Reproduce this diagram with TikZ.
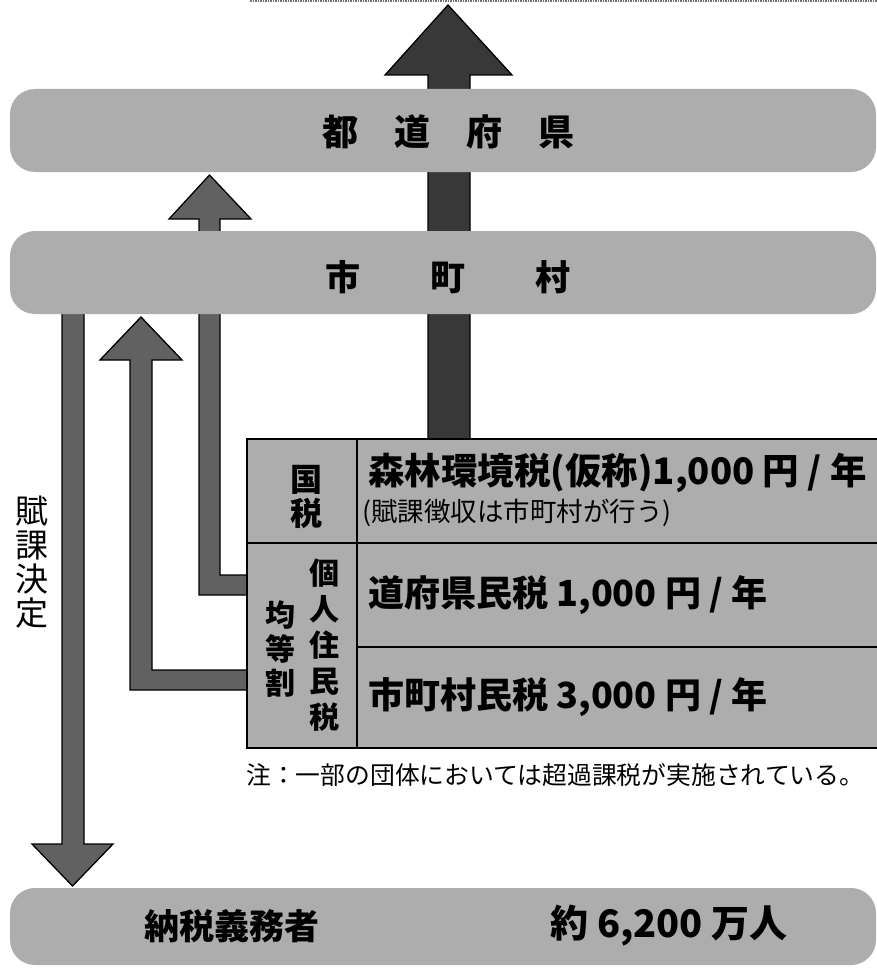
\documentclass[tikz,border=0pt]{standalone}
\usepackage{fontspec}
\newfontfamily\jp{Noto Sans CJK JP}
\definecolor{bandgray}{gray}{0.68}
\definecolor{arrgray}{gray}{0.38}
\definecolor{darkarr}{gray}{0.22}
\tikzset{
  band/.style={fill=bandgray, rounded corners=25pt, inner sep=0pt, minimum width=866pt},
  blockarrow/.style={fill=arrgray, draw=black, line width=1.3pt, line join=miter},
  mainarrow/.style={fill=darkarr, draw=black, line width=1.3pt, line join=miter},
  txt/.style={inner sep=0pt, font=\jp},
  tline/.style={line width=1.2pt, black},
}
\begin{document}
\begin{tikzpicture}[x=1pt,y=-1pt]
\useasboundingbox (0,0) rectangle (877,971);
% faint top edge
\draw[black!55, line width=1.2pt, dash pattern=on 1.5pt off 1pt] (250,1) -- (877,1);

% table coordinates
\coordinate (tTL) at (247,439);
\coordinate (tBR) at (877,748);

% central big arrow (behind bands)
\draw[mainarrow] (428,439) -- (428,75) -- (385,75) -- (448,5) -- (512,75) -- (470,75) -- (470,439);
% arrow to prefecture (behind municipal band)
\draw[blockarrow] (247,575) -- (220,575) -- (220,219) -- (251,219) -- (209.5,175) -- (169,219) -- (199,219) -- (199,595) -- (247,595);
% arrow to municipality
\draw[blockarrow] (247,670) -- (152,670) -- (152,360) -- (182,360) -- (141,317) -- (100,360) -- (130,360) -- (130,690) -- (247,690);
% assessment arrow downward
\draw[blockarrow] (62,305) -- (62,844) -- (32,844) -- (72.5,886) -- (113,844) -- (84,844) -- (84,305);

% bands
\node[band, minimum height=83pt] (pref) at (443,130.5) {};
\node[band, minimum height=83pt] (muni) at (443,272.5) {};
\node[band, minimum height=77pt] (payer) at (443,926.5) {};

\node[txt, font=\jp\bfseries\fontsize{36}{36}\selectfont] (preft) at (448,132) {都\quad 道\quad 府\quad 県};
\node[txt, font=\jp\bfseries\fontsize{35}{35}\selectfont] (munit) at (448,277) {市\qquad 町\qquad 村};
\node[txt, font=\jp\bfseries\fontsize{35}{35}\selectfont] (payert) at (232,926) {納税義務者};
\node[txt, font=\jp\bfseries\fontsize{38}{38}\selectfont] (numt) at (669,926) {約 6,200 万人};

% table
\fill[bandgray] (tTL) rectangle (tBR);
\draw[tline] (877,439) -- (247,439) -- (247,748) -- (877,748);
\draw[tline] (357,439) -- (357,748);
\draw[tline] (247,543) -- (877,543);
\draw[tline] (357,647) -- (877,647);

\node[txt, align=center, font=\jp\bfseries\fontsize{32}{34}\selectfont] (kokuzei) at (306,497) {国\\税};
\node[txt, align=center, font=\jp\bfseries\fontsize{30}{36}\selectfont] (kojin) at (324,645) {個\\人\\住\\民\\税};
\node[txt, align=center, font=\jp\bfseries\fontsize{30}{34}\selectfont] (kinto) at (280,649) {均\\等\\割};

\node[txt, anchor=west, font=\jp\bfseries\fontsize{36.5}{36}\selectfont] (forest) at (368,473) {森林環境税(仮称)1,000 円 / 年};
\node[txt, anchor=west, font=\jp\fontsize{26.5}{26}\selectfont] (forestn) at (362,513) {(賦課徴収は市町村が行う)};
\node[txt, anchor=west, font=\jp\bfseries\fontsize{36}{36}\selectfont] (pret) at (368,595) {道府県民税 1,000 円 / 年};
\node[txt, anchor=west, font=\jp\bfseries\fontsize{36}{36}\selectfont] (munt) at (368,697) {市町村民税 3,000 円 / 年};

\node[txt, anchor=west, font=\jp\fontsize{24.8}{25}\selectfont] (note) at (246,775) {注：一部の団体においては超過課税が実施されている。};

\node[txt, align=center, font=\jp\fontsize{33}{34}\selectfont] (fuka) at (32,562) {賦\\課\\決\\定};
\end{tikzpicture}
\end{document}
